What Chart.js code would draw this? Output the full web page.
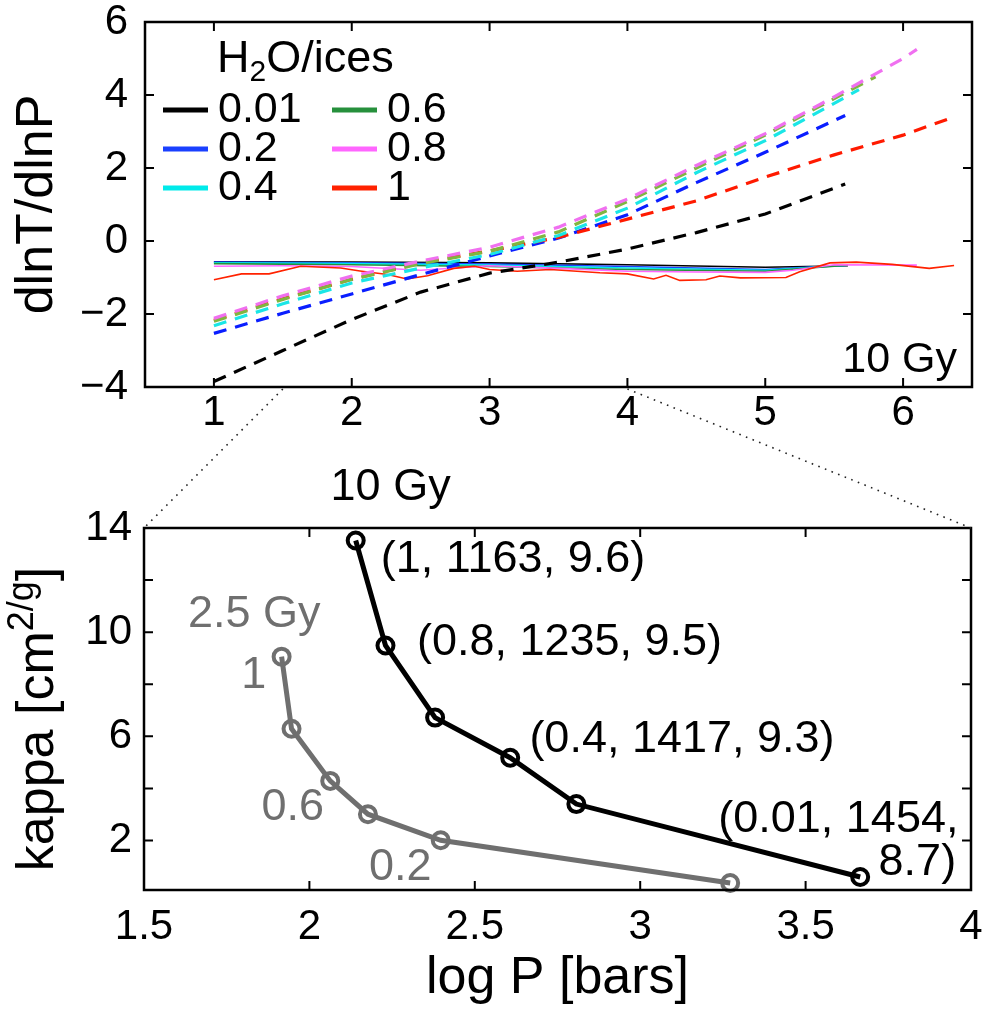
<!DOCTYPE html>
<html>
<head>
<meta charset="utf-8">
<script src="https://cdn.jsdelivr.net/npm/chart.js@4.4.1/dist/chart.umd.min.js"></script>
<style>
  html, body { margin: 0; padding: 0; background: #fff; }
  #wrap { position: relative; width: 986px; height: 1018px; overflow: hidden; }
  #topBox { position: absolute; left: 0; top: 0; width: 986px; height: 440px; }
  #botBox { position: absolute; left: 0; top: 380px; width: 986px; height: 638px; }
</style>
</head>
<body>
<div id="wrap">
  <div id="topBox"><canvas id="gradChart"></canvas></div>
  <div id="botBox"><canvas id="kappaChart"></canvas></div>
</div>
<script>
const FONT = "'Liberation Sans', Arial, Helvetica, sans-serif";
Chart.defaults.font.family = FONT;
Chart.defaults.color = '#000';

// ---------- top panel : dlnT/dlnP against log P (10 Gy) ----------
const fractions = ['0.01', '0.2', '0.4', '0.6', '0.8', '1'];
const topXTicks = [1, 2, 3, 4, 5, 6];
const topYTicks = [-4, -2, 0, 2, 4, 6];

// dashed curves (one per H2O/ices fraction)
const dashX001 = [1, 1.5, 2, 2.5, 3, 3.5, 4, 4.5, 5, 5.58];
const dashY001 = [-3.85, -3.0, -2.15, -1.4, -0.88, -0.58, -0.22, 0.23, 0.74, 1.56];
const dashX02 = [1, 1.5, 2, 2.5, 3, 3.5, 4, 4.5, 5, 5.58];
const dashY02 = [-2.53, -1.98, -1.45, -0.92, -0.41, 0.08, 0.72, 1.6, 2.43, 3.44];
const dashX04 = [1, 1.5, 2, 2.5, 3, 3.5, 4, 4.5, 5, 5.5, 5.68];
const dashY04 = [-2.32, -1.72, -1.15, -0.74, -0.37, 0.15, 0.9, 1.87, 2.75, 3.77, 4.15];
const dashX06 = [1, 1.5, 2, 2.5, 3, 3.5, 4, 4.5, 5, 5.5, 5.8];
const dashY06 = [-2.2, -1.6, -1.05, -0.62, -0.28, 0.25, 1.08, 2.0, 2.9, 3.9, 4.5];
const dashX08 = [1, 1.5, 2, 2.5, 3, 3.5, 4, 4.5, 5, 5.5, 6, 6.1];
const dashY08 = [-2.12, -1.5, -0.96, -0.55, -0.17, 0.38, 1.15, 2.07, 2.94, 3.95, 5.0, 5.25];
const dashX1 = [1, 1.5, 2, 2.5, 3, 3.5, 4, 4.5, 5, 5.5, 6, 6.37];
const dashY1 = [-2.17, -1.58, -1.05, -0.6, -0.27, 0.1, 0.6, 1.1, 1.75, 2.36, 2.9, 3.4];

// thin solid curves
const solidX001 = [1, 2, 3, 4, 5, 5.6];
const solidY001 = [-0.57, -0.58, -0.6, -0.65, -0.72, -0.68];
const solidX02 = [1, 2, 3, 4, 5, 5.6];
const solidY02 = [-0.58, -0.6, -0.63, -0.7, -0.78, -0.66];
const solidX04 = [1, 2, 3, 4, 5, 5.6];
const solidY04 = [-0.6, -0.62, -0.66, -0.74, -0.8, -0.66];
const solidX06 = [1, 2, 3, 4, 5, 5.6];
const solidY06 = [-0.62, -0.65, -0.7, -0.78, -0.83, -0.66];
const solidX08 = [1, 1.5, 2, 2.5, 3, 3.5, 4, 4.5, 5, 5.2, 5.5, 6.1];
const solidY08 = [-0.69, -0.68, -0.7, -0.8, -0.68, -0.75, -0.83, -0.85, -0.86, -0.8, -0.65, -0.66];
const solidX1 = [1, 1.2, 1.4, 1.63, 1.92, 2.06, 2.26, 2.4, 2.55, 2.74, 2.89, 3.0, 3.2, 3.44, 3.8,
                 4.0, 4.19, 4.28, 4.38, 4.57, 4.67, 4.82, 5.15, 5.25, 5.47, 5.66, 5.92, 6.19, 6.37];
const solidY1 = [-1.06, -0.9, -0.9, -0.69, -0.74, -0.82, -0.92, -1.04, -0.95, -0.75, -0.69, -0.78, -0.83, -0.78, -0.87,
                 -0.9, -1.04, -0.94, -1.08, -1.06, -0.96, -1.01, -1.0, -0.84, -0.6, -0.58, -0.64, -0.75, -0.67];

// ---------- bottom panel : kappa against log P ----------
const botXTicks = [1.5, 2, 2.5, 3, 3.5, 4];
const botYTicks = [2, 4, 6, 8, 10, 12, 14];
const botYLabels = [2, 6, 10, 14];
const logP10 = [2.14, 2.23, 2.38, 2.607, 2.807, 3.665];
const kappa10 = [13.52, 9.49, 6.72, 5.18, 3.4, 0.6];
const logP25 = [1.916, 1.946, 2.063, 2.177, 2.397, 3.272];
const kappa25 = [9.06, 6.29, 4.29, 3.01, 2.01, 0.37];
const tags10 = ['10 Gy', '(1, 1163, 9.6)', '(0.8, 1235, 9.5)', '(0.4, 1417, 9.3)', '(0.01, 1454,', '8.7)'];
const tags25 = ['2.5 Gy', '1', '0.6', '0.2'];

// styles / placements
const lineColors = ['#000000', '#1a40ff', '#00eaea', '#26903c', '#ff66ff', '#ff2200'];
const dashColors = ['#000000', '#0a1eff', '#1ae6e6', '#80b540', '#f070f0', '#ff1a00'];
const GRAY = '#6f6f6f';
// where the tags sit, in data units (log P, kappa)
const tags10At = [[2.064, 15.09, 'left'], [2.216, 12.32, 'left'], [2.325, 9.13, 'left'],
                  [2.665, 5.40, 'left'], [3.236, 2.32, 'left'], [3.955, 0.67, 'right']];
const tags25At = [[1.633, 10.2, 'left'], [1.794, 7.86, 'left'], [1.855, 2.79, 'left'], [2.18, 0.49, 'left']];

function pts(xs, ys) {
  return xs.map((x, i) => ({ x: x, y: ys[i] }));
}

function minusSign(v) {
  return String(v).replace('-', '\u2212');
}

// labels must not push the plot frame around
function noOverhang(s) {
  s.paddingTop = 0;
  s.paddingBottom = 0;
  s.paddingLeft = 0;
  s.paddingRight = 0;
}

// draws text pieces one after another on one baseline (for sub/superscripts)
function drawRich(ctx, parts, x, y) {
  let cx = x;
  parts.forEach(p => {
    ctx.font = p.s + 'px ' + FONT;
    ctx.fillText(p.t, cx, y + (p.dy || 0));
    cx += ctx.measureText(p.t).width;
  });
  return cx - x;
}

function richWidth(ctx, parts) {
  let w = 0;
  parts.forEach(p => { ctx.font = p.s + 'px ' + FONT; w += ctx.measureText(p.t).width; });
  return w;
}

// Matlab style box with inward ticks on all four sides
const boxPlugin = {
  id: 'box',
  afterDraw(chart) {
    const { ctx, chartArea: a, scales: { x, y } } = chart;
    ctx.save();
    ctx.strokeStyle = '#000';
    ctx.lineWidth = 2.5;
    ctx.strokeRect(a.left, a.top, a.right - a.left, a.bottom - a.top);
    ctx.lineWidth = 2;
    ctx.beginPath();
    x.ticks.forEach(t => {
      const px = x.getPixelForValue(t.value);
      ctx.moveTo(px, a.bottom); ctx.lineTo(px, a.bottom - 9);
      ctx.moveTo(px, a.top); ctx.lineTo(px, a.top + 9);
    });
    y.ticks.forEach(t => {
      const py = y.getPixelForValue(t.value);
      ctx.moveTo(a.left, py); ctx.lineTo(a.left + 9, py);
      ctx.moveTo(a.right, py); ctx.lineTo(a.right - 9, py);
    });
    ctx.stroke();
    ctx.restore();
  }
};

const legendPlugin = {
  id: 'iceLegend',
  afterDraw(chart) {
    const { ctx, chartArea: a } = chart;
    ctx.save();
    ctx.fillStyle = '#000';
    ctx.textAlign = 'left';
    ctx.textBaseline = 'alphabetic';
    drawRich(ctx, [{ t: 'H', s: 45 }, { t: '2', s: 30, dy: 9 }, { t: 'O/ices', s: 45 }], a.left + 72, a.top + 50);
    fractions.forEach((f, i) => {
      const col = Math.floor(i / 3), row = i % 3;
      const base = a.top + 100 + row * 39;
      const lx = a.left + (col ? 187 : 18);
      ctx.strokeStyle = lineColors[i];
      ctx.lineWidth = 5;
      ctx.beginPath();
      ctx.moveTo(lx, base - 12);
      ctx.lineTo(lx + 45, base - 12);
      ctx.stroke();
      ctx.font = '43px ' + FONT;
      ctx.fillText(f, lx + 55, base);
    });
    ctx.textAlign = 'right';
    ctx.font = '43px ' + FONT;
    ctx.fillText('10 Gy', a.right - 15, a.bottom - 15);
    ctx.restore();
  }
};

const dashX = [dashX001, dashX02, dashX04, dashX06, dashX08, dashX1];
const dashY = [dashY001, dashY02, dashY04, dashY06, dashY08, dashY1];
const solidX = [solidX001, solidX02, solidX04, solidX06, solidX08, solidX1];
const solidY = [solidY001, solidY02, solidY04, solidY06, solidY08, solidY1];

const topSets = [];
// dashed first so they are painted over the thin lines
[4, 3, 2, 5, 1, 0].forEach(i => {
  topSets.push({
    label: fractions[i] + ' dashed',
    data: pts(dashX[i], dashY[i]),
    borderColor: dashColors[i],
    borderWidth: 3.2,
    borderDash: [13, 9],
    pointRadius: 0
  });
});
[5, 4, 3, 2, 1, 0].forEach(i => {
  topSets.push({
    label: fractions[i],
    data: pts(solidX[i], solidY[i]),
    borderColor: lineColors[i],
    borderWidth: 1.6,
    pointRadius: 0
  });
});

const topCanvas = document.getElementById('gradChart');
const topChart = new Chart(topCanvas, {
  type: 'line',
  data: { datasets: topSets },
  options: {
    responsive: true,
    maintainAspectRatio: false,
    animation: false,
    events: [],
    layout: { padding: { top: 22, right: 14, left: 0, bottom: 0 } },
    plugins: { legend: { display: false }, tooltip: { enabled: false } },
    elements: { line: { tension: 0 } },
    scales: {
      x: {
        type: 'linear', min: 0.5, max: 6.5,
        grid: { display: false, drawTicks: false },
        border: { display: false },
        afterBuildTicks: s => { s.ticks = topXTicks.map(v => ({ value: v })); },
        afterFit: s => { s.height = 53; noOverhang(s); },
        ticks: { font: { size: 42, lineHeight: 1 }, color: '#000', padding: 5, maxRotation: 0, autoSkip: false,
                 callback: v => String(v) }
      },
      y: {
        type: 'linear', min: -4, max: 6,
        grid: { display: false, drawTicks: false },
        border: { display: false },
        afterBuildTicks: s => { s.ticks = topYTicks.map(v => ({ value: v })); },
        afterFit: s => { s.width = 145; noOverhang(s); },
        ticks: { font: { size: 42, lineHeight: 1 }, color: '#000', padding: 17, callback: v => minusSign(v) },
        title: { display: true, text: 'dlnT/dlnP', font: { size: 52 }, color: '#000', padding: 6 }
      }
    }
  },
  plugins: [boxPlugin, legendPlugin]
});

const botCanvas = document.getElementById('kappaChart');

const kappaDecor = {
  id: 'kappaDecor',
  afterDraw(chart) {
    const { ctx, chartArea: a, scales: { x, y } } = chart;
    ctx.save();
    // dotted zoom lines coming from the top panel's log P axis
    const shift = topCanvas.getBoundingClientRect().top - botCanvas.getBoundingClientRect().top;
    const tx = topChart.scales.x;
    const ty = topChart.chartArea.bottom + shift + 2;
    ctx.strokeStyle = '#222';
    ctx.lineWidth = 1.6;
    ctx.setLineDash([1.6, 5.5]);
    ctx.beginPath();
    ctx.moveTo(tx.getPixelForValue(x.min), ty);
    ctx.lineTo(a.left, a.top);
    ctx.moveTo(tx.getPixelForValue(x.max), ty);
    ctx.lineTo(a.right, a.top);
    ctx.stroke();
    ctx.setLineDash([]);

    // tags next to the curves
    ctx.textBaseline = 'alphabetic';
    ctx.font = '45px ' + FONT;
    ctx.fillStyle = '#000';
    tags10.forEach((t, i) => {
      const p = tags10At[i];
      ctx.textAlign = p[2];
      ctx.fillText(t, x.getPixelForValue(p[0]), y.getPixelForValue(p[1]));
    });
    ctx.fillStyle = GRAY;
    tags25.forEach((t, i) => {
      const p = tags25At[i];
      ctx.textAlign = p[2];
      ctx.fillText(t, x.getPixelForValue(p[0]), y.getPixelForValue(p[1]));
    });

    // y axis title with superscript
    const parts = [{ t: 'kappa [cm', s: 52 }, { t: '2/g', s: 36, dy: -20 }, { t: ']', s: 52 }];
    ctx.fillStyle = '#000';
    ctx.textAlign = 'left';
    const w = richWidth(ctx, parts);
    ctx.translate(53, (a.top + a.bottom) / 2 + 10);
    ctx.rotate(-Math.PI / 2);
    drawRich(ctx, parts, -w / 2, 0);
    ctx.restore();
  }
};

const kappaChart = new Chart(botCanvas, {
  type: 'line',
  data: {
    datasets: [
      {
        label: '10 Gy',
        data: pts(logP10, kappa10),
        borderColor: '#000',
        borderWidth: 5,
        pointRadius: 8,
        pointBorderWidth: 4,
        pointBorderColor: '#000',
        pointBackgroundColor: 'rgba(0,0,0,0)',
        clip: false
      },
      {
        label: '2.5 Gy',
        data: pts(logP25, kappa25),
        borderColor: GRAY,
        borderWidth: 5,
        pointRadius: 8,
        pointBorderWidth: 4,
        pointBorderColor: GRAY,
        pointBackgroundColor: 'rgba(0,0,0,0)',
        clip: false
      }
    ]
  },
  options: {
    responsive: true,
    maintainAspectRatio: false,
    animation: false,
    events: [],
    layout: { padding: { top: 148, right: 15, left: 0, bottom: 0 } },
    plugins: { legend: { display: false }, tooltip: { enabled: false } },
    elements: { line: { tension: 0 } },
    scales: {
      x: {
        type: 'linear', min: 1.5, max: 4,
        grid: { display: false, drawTicks: false },
        border: { display: false },
        afterBuildTicks: s => { s.ticks = botXTicks.map(v => ({ value: v })); },
        afterFit: s => { s.height = 128; noOverhang(s); },
        ticks: { font: { size: 42, lineHeight: 1 }, color: '#000', padding: 16, maxRotation: 0, autoSkip: false,
                 callback: v => String(v) },
        title: { display: true, text: 'log P [bars]', font: { size: 52 }, color: '#000', padding: { top: 0, bottom: 8 } }
      },
      y: {
        type: 'linear', min: 0.1, max: 14,
        grid: { display: false, drawTicks: false },
        border: { display: false },
        afterBuildTicks: s => { s.ticks = botYTicks.map(v => ({ value: v })); },
        afterFit: s => { s.width = 144; noOverhang(s); },
        ticks: {
          font: { size: 42, lineHeight: 1 }, color: '#000', padding: 12,
          callback: v => (botYLabels.includes(v) ? String(v) : '')
        }
      }
    }
  },
  plugins: [boxPlugin, kappaDecor]
});
</script>
</body>
</html>
